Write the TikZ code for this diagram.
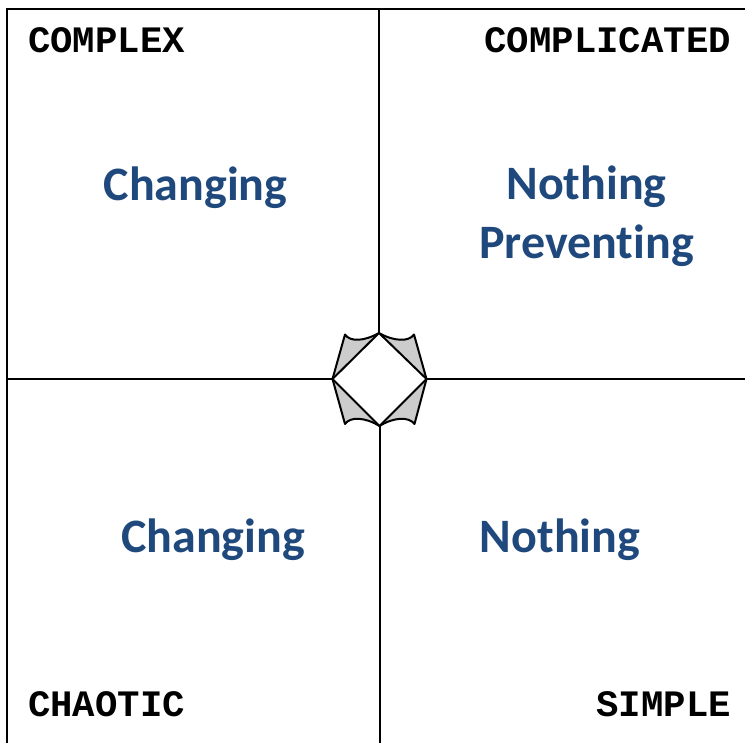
\documentclass[tikz,border=0pt]{standalone}
\usepackage{fontspec}
\setmainfont[Ligatures=NoCommon]{Carlito}
\newfontfamily\labelfont{Liberation Mono}
\definecolor{bluetext}{HTML}{1F497D}
\definecolor{wedge}{HTML}{CCCCCC}
\tikzset{
  axis/.style={draw=black,line width=2pt},
  corner/.style={font=\labelfont\bfseries\fontsize{37.3}{37.3}\selectfont,inner sep=0pt,text=black},
  body/.style={font=\bfseries\fontsize{48}{59}\selectfont,text=bluetext,inner sep=0pt,align=center},
  petal/.style={draw=black,line width=2pt,fill=wedge,line join=round},
  gem/.style={draw=black,line width=2pt,fill=white,line join=round}
}
\begin{document}
\begin{tikzpicture}[x=1pt,y=-1pt]
\useasboundingbox (0,0) rectangle (745,743);
\coordinate (T) at (379,333);
\coordinate (R) at (426.5,379);
\coordinate (B) at (379.5,426);
\coordinate (L) at (332.5,379);
\coordinate (TL) at (345,334.5);
\coordinate (TR) at (414,334.5);
\coordinate (BL) at (345,424);
\coordinate (BR) at (414.5,424);
\coordinate (frameTL) at (7,9);
\coordinate (frameTR) at (745,9);
\coordinate (frameBL) at (7,743);
\coordinate (topMid) at (379,9);
\coordinate (botMid) at (379.5,743);
\coordinate (rightMid) at (745,379);
\draw[axis] (frameTR) -- (frameTL) -- (frameBL);
\draw[axis] (topMid) -- (T);
\draw[axis] (B) -- (botMid);
\draw[axis] (frameTL |- L) -- (L);
\draw[axis] (R) -- (rightMid);
\draw[petal] (L) -- (TL) .. controls (350,342) and (364,341.5) .. (T) .. controls (394,341.5) and (409,342) .. (TR) -- (R) -- (BR) .. controls (409,416.5) and (394,417) .. (B) .. controls (365,417) and (350,416.5) .. (BL) -- cycle;
\draw[gem] (T) -- (R) -- (B) -- (L) -- cycle;
\node[corner,anchor=base west] (complex) at (28,53) {COMPLEX};
\node[corner,anchor=base east] (complicated) at (731,53) {COMPLICATED};
\node[corner,anchor=base west] (chaotic) at (28,716) {CHAOTIC};
\node[corner,anchor=base east] (simple) at (731,716) {SIMPLE};
\node[body,anchor=base] (c1) at (195.5,201) {Changing};
\node[body,anchor=base] (np) at (586.5,259) {Nothing\\Preventing};
\node[body,anchor=base] (c2) at (213,552) {Changing};
\node[body,anchor=base] (n) at (560,552) {Nothing};
\end{tikzpicture}
\end{document}
